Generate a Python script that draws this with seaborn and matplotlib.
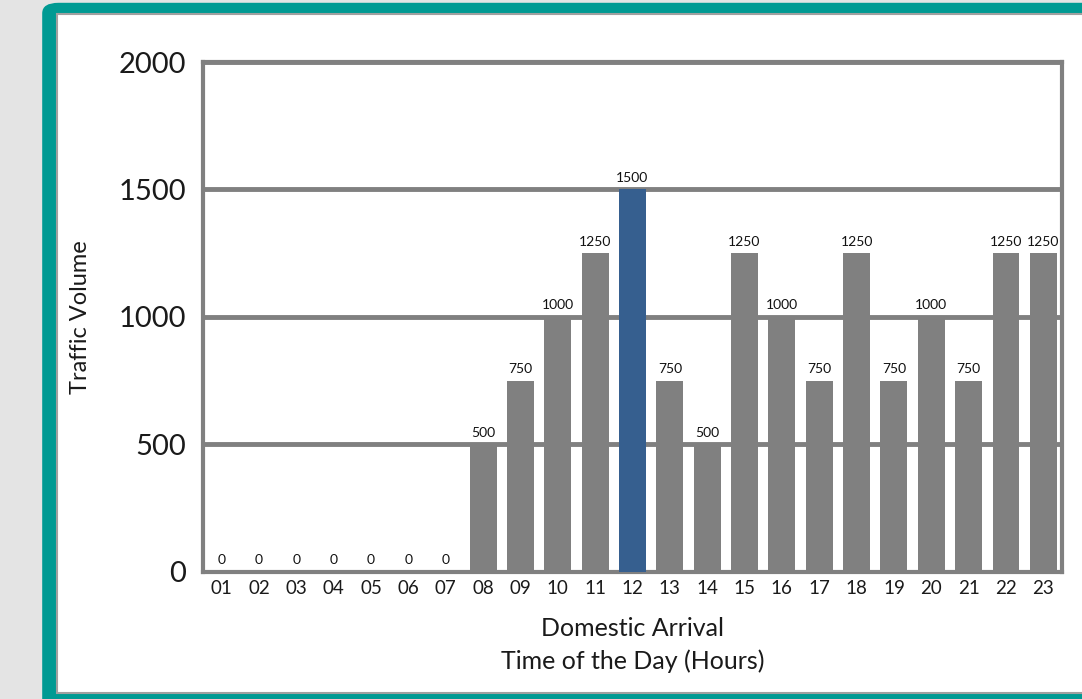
import matplotlib
matplotlib.use("Agg")
import matplotlib.pyplot as plt
import seaborn as sns
import pandas as pd
from matplotlib.patches import FancyBboxPatch, Rectangle

# data
hours = ["01", "02", "03", "04", "05", "06", "07", "08", "09", "10", "11", "12",
         "13", "14", "15", "16", "17", "18", "19", "20", "21", "22", "23"]
traffic = [0, 0, 0, 0, 0, 0, 0, 500, 750, 1000, 1250, 1500,
           750, 500, 1250, 1000, 750, 1250, 750, 1000, 750, 1250, 1250]
peak_hour = "12"

df = pd.DataFrame({"hour": hours, "traffic": traffic})
colores = {h: ("#365f8f" if h == peak_hour else "#808080") for h in hours}

sns.set_style("white")
plt.rcParams["font.family"] = ["Lato", "DejaVu Sans"]

fig = plt.figure(figsize=(10.82, 6.99), dpi=100)
fig.patch.set_facecolor("#e4e4e4")

# marco verde y panel blanco (detras de los ejes)
fig.patches.append(FancyBboxPatch((0.039, -0.05), 1.0, 1.046, boxstyle="round,pad=0,rounding_size=0.015",
                                  transform=fig.transFigure, facecolor="#009a93", edgecolor="none", zorder=-3))
fig.patches.append(Rectangle((0.0525, 0.008), 0.96, 0.972, transform=fig.transFigure,
                             facecolor="white", edgecolor="#a0a0a0", linewidth=1.5, zorder=-2))

ax = fig.add_axes([0.1876, 0.1817, 0.7939, 0.7296])
ax.set_facecolor("white")
sns.barplot(data=df, x="hour", y="traffic", hue="hour", palette=colores, legend=False,
            width=0.72, saturation=1, linewidth=0, ax=ax, zorder=3)

ax.set_ylim(0, 2000)
ax.set_yticks([0, 500, 1000, 1500, 2000])
ax.yaxis.grid(True, color="#808080", linewidth=3.5, zorder=0)
ax.set_axisbelow(True)
for s in ax.spines.values():
    s.set_color("#808080")
    s.set_linewidth(3)

ax.tick_params(axis="y", length=0, pad=12, labelsize=21, labelcolor="#1a1a1a")
ax.tick_params(axis="x", length=0, pad=6, labelsize=13.5, labelcolor="#1a1a1a")

for cont in ax.containers:
    ax.bar_label(cont, fmt="%d", padding=4, fontsize=10, color="#111111")

ax.set_xlabel("Domestic Arrival\nTime of the Day (Hours)", fontsize=18,
              color="#1a1a1a", labelpad=14, linespacing=1.5)
ax.set_ylabel("Traffic Volume", fontsize=17, color="#1a1a1a", labelpad=20)

fig.savefig("out.png", dpi=100, facecolor=fig.get_facecolor())
